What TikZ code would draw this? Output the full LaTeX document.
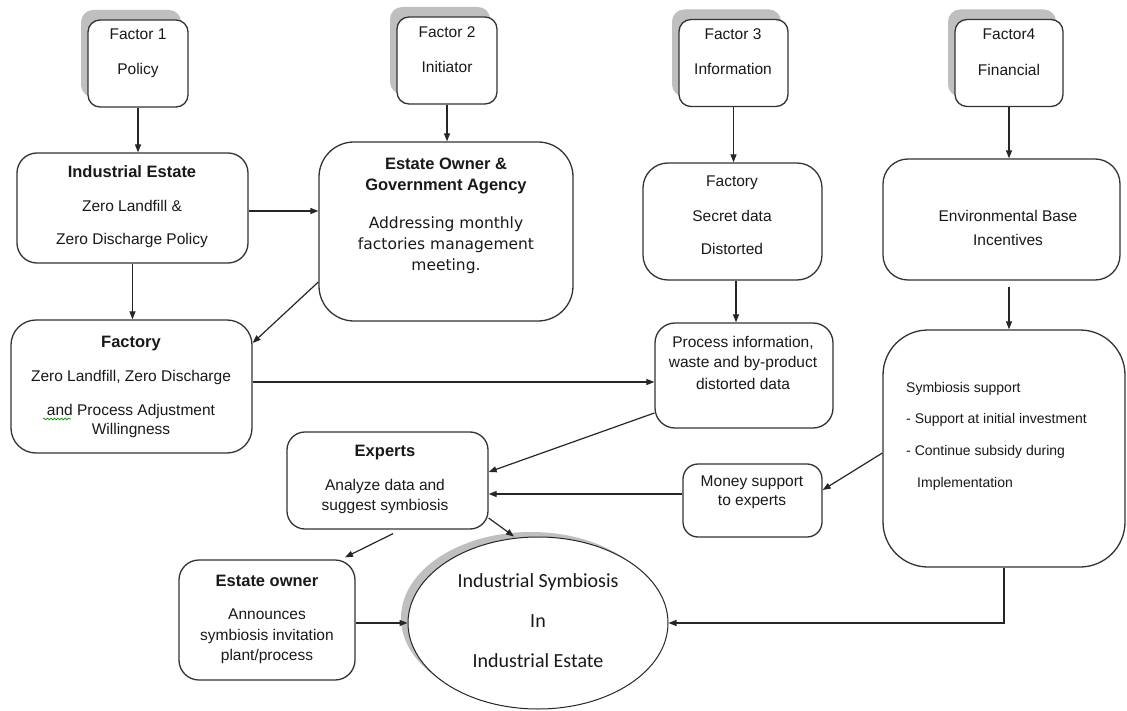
\documentclass[tikz,border=0pt]{standalone}
\usepackage{fontspec}
\setmainfont{Liberation Sans}
\newfontfamily\dvfont{DejaVu Sans}
\newfontfamily\clfont{Carlito}
\usetikzlibrary{arrows.meta,shapes.geometric,shadows,decorations.pathmorphing}
\begin{document}
\begin{tikzpicture}[x=1pt,y=-1pt,
  box/.style={draw=black!80, line width=1.3pt, fill=white, inner sep=0pt, rectangle},
  fb/.style={box, rounded corners=12pt, minimum width=#1, minimum height=87pt,
     drop shadow={shadow xshift=-7pt, shadow yshift=10pt, fill=black!25, opacity=1}},
  arr/.style={-{Triangle[length=8pt,width=6pt]}, line width=1.2pt, black!85},
  tx/.style={anchor=base, inner sep=0pt, font=\fontsize{15.5}{18}\selectfont, text=black!90},
  sm/.style={anchor=base west, inner sep=0pt, font=\fontsize{14}{17}\selectfont, text=black!90},
  bd/.style={anchor=base, inner sep=0pt, font=\fontsize{16.5}{19}\selectfont\bfseries, text=black!90},
  dv/.style={anchor=base, inner sep=0pt, font=\dvfont\fontsize{15.5}{18}\selectfont, text=black!90},
  cl/.style={anchor=base, inner sep=0pt, font=\clfont\fontsize{20}{24}\selectfont, text=black!90}]
\useasboundingbox (0,0) rectangle (1127,711);

% factor boxes
\node[fb=100pt] (f1) at (138,63.5) {};
\node[fb=100pt] (f2) at (447,60.5) {};
\node[fb=109pt] (f3) at (733.5,63) {};
\node[fb=108pt] (f4) at (1009,63) {};
\node[tx] (f1a) at (138,40) {Factor 1};
\node[tx] (f1b) at (138,75) {Policy};
\node[tx] (f2a) at (447,38) {Factor 2};
\node[tx] (f2b) at (447,73) {Initiator};
\node[tx] (f3a) at (733,40) {Factor 3};
\node[tx] (f3b) at (733,75) {Information};
\node[tx] (f4a) at (1009,40) {Factor4};
\node[tx] (f4b) at (1009,76) {Financial};

% main boxes
\node[box, rounded corners=20pt, minimum width=231pt, minimum height=110pt] (ie) at (132.5,208) {};
\node[box, rounded corners=35pt, minimum width=254pt, minimum height=179pt] (eo) at (446,231.5) {};
\node[box, rounded corners=25pt, minimum width=241pt, minimum height=133pt] (fac) at (131.5,386.5) {};
\node[box, rounded corners=25pt, minimum width=179pt, minimum height=117pt] (fi) at (732.5,221.5) {};
\node[box, rounded corners=20pt, minimum width=178pt, minimum height=105pt] (pr) at (744,375.5) {};
\node[box, rounded corners=25pt, minimum width=237pt, minimum height=121pt] (env) at (1001.5,219.5) {};
\node[box, rounded corners=45pt, minimum width=242pt, minimum height=237pt] (sym) at (1004,448.5) {};
\node[box, rounded corners=15pt, minimum width=139pt, minimum height=73pt] (mon) at (752.5,500.5) {};
\node[box, rounded corners=18pt, minimum width=201pt, minimum height=97pt] (ex) at (387.5,480.5) {};
\node[box, rounded corners=20pt, minimum width=176pt, minimum height=120pt] (eow) at (267,620) {};
\node[ellipse, draw=black!85, line width=1pt, fill=white, inner sep=0pt,
      minimum width=260pt, minimum height=172pt,
      drop shadow={shadow xshift=-7pt, shadow yshift=5pt, fill=black!25, opacity=1}] (ell) at (538,623) {};

% texts
\node[bd] (iea) at (132,178) {Industrial Estate};
\node[tx] (ieb) at (132,212) {Zero Landfill \&};
\node[tx] (iec) at (132,245) {Zero Discharge Policy};

\node[bd] (eoa) at (446,170) {Estate Owner \&};
\node[bd] (eob) at (446,191) {Government Agency};
\node[dv] (eoc) at (446,229) {Addressing monthly};
\node[dv] (eod) at (446,250) {factories management};
\node[dv] (eoe) at (446,271) {meeting.};

\node[bd] (faca) at (131,347) {Factory};
\node[tx] (facb) at (131,381) {Zero Landfill, Zero Discharge};
\node[tx] (facc) at (131,415) {and Process Adjustment};
\node[tx] (facd) at (131,434) {Willingness};
\draw[green!60!black, line width=0.7pt, decorate, decoration={snake, amplitude=0.9pt, segment length=3.5pt}] (43,419) -- (71,419);

\node[tx] (fia) at (732,187) {Factory};
\node[tx] (fib) at (732,222) {Secret data};
\node[tx] (fic) at (732,255) {Distorted};

\node[tx] (pra) at (743,347) {Process information,};
\node[tx] (prb) at (743,367) {waste and by-product};
\node[tx] (prc) at (743,389) {distorted data};

\node[tx] (enva) at (1008,222) {Environmental Base};
\node[tx] (envb) at (1008,246) {Incentives};

\node[sm] (syma) at (906,392) {Symbiosis support};
\node[sm] (symb) at (906,423) {- Support at initial investment};
\node[sm] (symc) at (906,455) {- Continue subsidy during};
\node[sm] (symd) at (917,487) {Implementation};

\node[tx] (mona) at (752,486) {Money support};
\node[tx] (monb) at (752,505) {to experts};

\node[bd] (exa) at (385,456) {Experts};
\node[tx] (exb) at (385,490) {Analyze data and};
\node[tx] (exc) at (385,510) {suggest symbiosis};

\node[bd] (eowa) at (267,586) {Estate owner};
\node[tx] (eowb) at (267,619.5) {Announces};
\node[tx] (eowc) at (267,640) {symbiosis invitation};
\node[tx] (eowd) at (267,660) {plant/process};

\node[cl] (ella) at (538,587) {Industrial Symbiosis};
\node[cl] (ellb) at (538,627) {In};
\node[cl] (ellc) at (538,667) {Industrial Estate};

% connectors
\draw[arr] (f1.south) -- (f1.south |- ie.north);
\draw[arr] (f2.south) -- (f2.south |- eo.north);
\draw[arr] (f3.south) -- (f3.south |- fi.north);
\draw[arr] (f4.south) -- (f4.south |- env.north);
\coordinate (ieo) at ([yshift=-3pt]ie.east);
\draw[arr] (ieo) -- (ieo -| eo.west);
\draw[arr] (ie.south) -- (ie.south |- fac.north);
\draw[arr] ([yshift=-50.5pt]eo.west) -- ([yshift=43.5pt]fac.east);
\coordinate (fpo) at ([yshift=4.5pt]fac.east);
\draw[arr] (fpo) -- (fpo -| pr.west);
\coordinate (fip) at ([xshift=3.5pt]fi.south);
\draw[arr] (fip) -- (fip |- pr.north);
\draw[arr] ([yshift=-37.5pt]pr.west) -- ([yshift=8.5pt]ex.east);
\coordinate (es0) at (env.south -| f4.south);
\draw[arr] ([yshift=-6pt]es0) -- (es0 |- sym.north);
\draw[arr] ([yshift=-4.5pt]sym.west) -- ([yshift=10.5pt]mon.east);
\coordinate (me) at ([yshift=6.5pt]mon.west);
\draw[arr] (me) -- (me -| ex.east);
\draw[arr] ([xshift=5.5pt,yshift=-4pt]ex.south) -- ([xshift=78pt,yshift=2pt]eow.north);
\draw[arr] ([yshift=-37.5pt]ex.east) -- ([xshift=-24pt]ell.north);
\draw[arr] (eow.east |- ell.west) -- (ell.west);
\draw[arr] (sym.south) |- (ell.east);
\end{tikzpicture}
\end{document}
